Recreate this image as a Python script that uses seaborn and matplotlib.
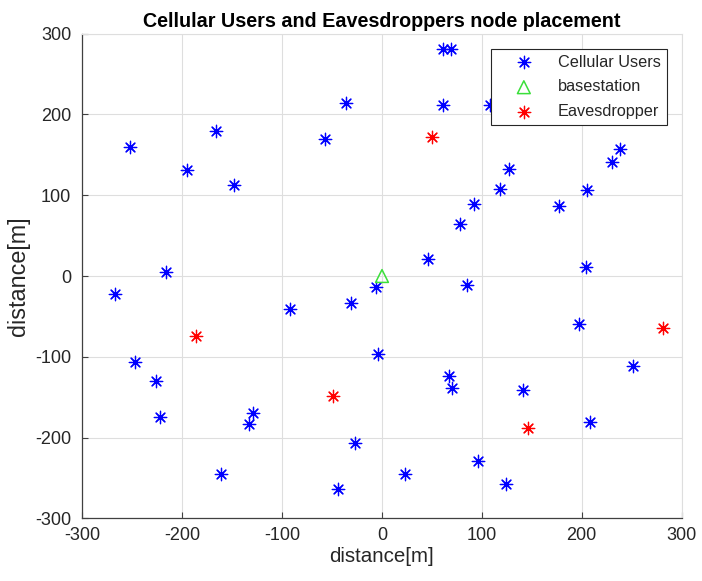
import matplotlib
matplotlib.use("Agg")
import matplotlib.pyplot as plt
import seaborn as sns
import pandas as pd

user_x = [-252, -166, -195, -148, -57, -36, -216,
          61, 69, 61, 108, 238, 230, 127, 118, 205, 92, 177, 78, 46, 204,
          -267, -92, -31, -6, -4, -247, -226, -222, -129, -133, -27, -161, -44,
          85, 197, 251, 67, 70, 141, 208, 96, 23, 124]
user_y = [159, 180, 131, 112, 169, 214, 5,
          281, 281, 212, 211, 157, 141, 132, 108, 106, 89, 86, 64, 21, 11,
          -22, -41, -34, -14, -96, -107, -130, -174, -170, -183, -206, -245, -264,
          -11, -59, -111, -124, -139, -141, -181, -229, -245, -257]
bs_x = [0]
bs_y = [0]
eve_x = [50, -186, -49, 146, 281]
eve_y = [172, -74, -149, -188, -64]

title = "Cellular Users and Eavesdroppers node placement"
xlabel = "distance[m]"
ylabel = "distance[m]"
ticks = [-300, -200, -100, 0, 100, 200, 300]

sns.set_theme(style="white")
plt.rcParams['font.family'] = ['Liberation Sans', 'DejaVu Sans']
plt.rcParams['axes.unicode_minus'] = False

fig = plt.figure(figsize=(7.02, 5.81), dpi=100)
ax = fig.add_axes([0.1175, 0.1076, 0.8533, 0.8347])

users = pd.DataFrame({"x": user_x, "y": user_y})
bs = pd.DataFrame({"x": bs_x, "y": bs_y})
eve = pd.DataFrame({"x": eve_x, "y": eve_y})

ast = (8, 2, 0)
sns.scatterplot(data=users, x="x", y="y", ax=ax, marker=ast, s=80,
                color="#0000FF", edgecolor="#0000FF", linewidth=0.9,
                label="Cellular Users", zorder=3)
sns.scatterplot(data=bs, x="x", y="y", ax=ax, marker="^", s=85,
                facecolor="none", edgecolor="#3ADF3A", linewidth=1.1,
                label="basestation", zorder=3)
sns.scatterplot(data=eve, x="x", y="y", ax=ax, marker=ast, s=80,
                color="#FF0000", edgecolor="#FF0000", linewidth=0.9,
                label="Eavesdropper", zorder=3)

ax.set_xlim(-300, 300)
ax.set_ylim(-300, 300)
ax.set_xticks(ticks)
ax.set_yticks(ticks)
ax.grid(True, color="#dedede", linewidth=0.8)
ax.set_axisbelow(True)
for s in ["top", "right"]:
    ax.spines[s].set_color("#dedede")
    ax.spines[s].set_linewidth(0.8)
for s in ["left", "bottom"]:
    ax.spines[s].set_color("#404040")
    ax.spines[s].set_linewidth(0.9)
ax.tick_params(axis="both", direction="in", length=4, width=0.8,
               colors="#404040", labelcolor="#262626", labelsize=13,
               bottom=True, left=True, top=False, right=False)
ax.tick_params(axis="x", pad=6)
ax.tick_params(axis="y", pad=8)
ax.set_xlabel(xlabel, fontsize=14.8, color="#262626", labelpad=2)
ax.set_ylabel(ylabel, fontsize=16.8, color="#262626", labelpad=4)
ax.set_title(title, fontsize=14.2, fontweight="bold", color="#000000", pad=5)

leg = ax.legend(loc="upper right", bbox_to_anchor=(0.975, 0.968),
                fontsize=11.7, frameon=True, fancybox=False,
                edgecolor="#262626", framealpha=1, borderpad=0.35,
                handlelength=3.3, handletextpad=0.45, borderaxespad=0,
                labelspacing=0.6)
leg.get_frame().set_linewidth(0.8)
leg.set_zorder(5)

fig.savefig("out.png", dpi=100)
